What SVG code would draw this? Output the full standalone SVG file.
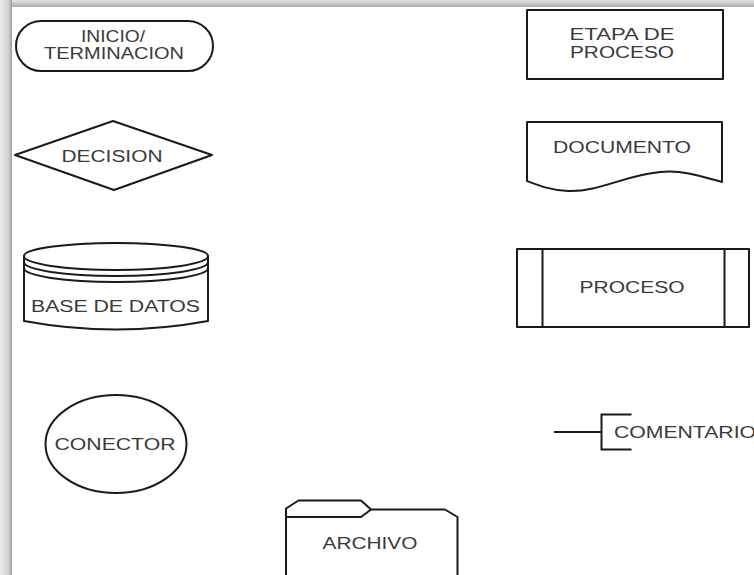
<svg xmlns="http://www.w3.org/2000/svg" width="754" height="575" viewBox="0 0 754 575">
  <defs>
    <linearGradient id="shadeTop" x1="0" y1="0" x2="0" y2="1">
      <stop offset="0" stop-color="#e6e6e6"/>
      <stop offset="1" stop-color="#a9a9a9"/>
    </linearGradient>
    <linearGradient id="shadeLeft" x1="0" y1="0" x2="1" y2="0">
      <stop offset="0" stop-color="#ececec"/>
      <stop offset="0.7" stop-color="#d2d2d2"/>
      <stop offset="1" stop-color="#9c9c9c"/>
    </linearGradient>
  </defs>
  <style>
    .shape { fill: #ffffff; stroke: #1a1a1a; stroke-width: 2; stroke-linejoin: round; }
    .line { fill: none; stroke: #1a1a1a; stroke-width: 2; }
    .label { font-family: "Liberation Sans", Arial, sans-serif; font-size: 16px; fill: #3a3a3a; }
  </style>

  <!-- page background and drop shadow edges -->
  <rect x="0" y="0" width="754" height="575" fill="#ffffff"/>
  <rect x="0" y="0" width="754" height="7" fill="url(#shadeTop)"/>
  <rect x="0" y="0" width="12" height="575" fill="url(#shadeLeft)"/>

  <g id="inicio-terminacion">
    <rect class="shape" x="16" y="21" width="197" height="50" rx="25" ry="25"/>
    <text class="label" x="113" y="41.5" text-anchor="middle" textLength="64" lengthAdjust="spacingAndGlyphs">INICIO/</text>
    <text class="label" x="114" y="59.3" text-anchor="middle" textLength="140" lengthAdjust="spacingAndGlyphs">TERMINACION</text>
  </g>

  <g id="etapa-de-proceso">
    <rect class="shape" x="527" y="10" width="196" height="69"/>
    <text class="label" x="622" y="40" text-anchor="middle" textLength="105" lengthAdjust="spacingAndGlyphs">ETAPA DE</text>
    <text class="label" x="622" y="58.3" text-anchor="middle" textLength="104" lengthAdjust="spacingAndGlyphs">PROCESO</text>
  </g>

  <g id="decision">
    <polygon class="shape" points="15,155 113,121 212,155 114,190"/>
    <text class="label" x="112" y="161.7" text-anchor="middle" textLength="101" lengthAdjust="spacingAndGlyphs">DECISION</text>
  </g>

  <g id="documento">
    <path class="shape" d="M527,122 H722 V182 C700,176 685,170 660,172 C625,175 600,192 568,191 C550,190 540,186 527,181 Z"/>
    <text class="label" x="622" y="153.3" text-anchor="middle" textLength="138" lengthAdjust="spacingAndGlyphs">DOCUMENTO</text>
  </g>

  <g id="base-de-datos">
    <path class="shape" d="M24,256 A92,13 0 0 1 208,256 V321 Q116,338 24,321 Z"/>
    <path class="line" d="M24,256 A92,14 0 0 0 208,256"/>
    <path class="line" d="M24,262 A92,14 0 0 0 208,262"/>
    <path class="line" d="M24,268 A92,14 0 0 0 208,268"/>
    <text class="label" x="115.5" y="311.7" text-anchor="middle" textLength="169" lengthAdjust="spacingAndGlyphs">BASE DE DATOS</text>
  </g>

  <g id="proceso">
    <rect class="shape" x="517" y="249" width="232" height="78"/>
    <line class="line" x1="542.5" y1="249" x2="542.5" y2="327"/>
    <line class="line" x1="724.5" y1="249" x2="724.5" y2="327"/>
    <text class="label" x="632" y="293.3" text-anchor="middle" textLength="105" lengthAdjust="spacingAndGlyphs">PROCESO</text>
  </g>

  <g id="conector">
    <ellipse class="shape" cx="116" cy="444" rx="70.5" ry="49"/>
    <text class="label" x="115" y="450" text-anchor="middle" textLength="121" lengthAdjust="spacingAndGlyphs">CONECTOR</text>
  </g>

  <g id="comentario">
    <path class="line" d="M631.5,414.5 H601.5 V449.5 H631.5"/>
    <text class="label" x="614" y="438.3" textLength="142" lengthAdjust="spacingAndGlyphs">COMENTARIO</text>
  </g>

  <g id="archivo">
    <path class="shape" d="M286,578 V508.5 L298.5,500.5 H361 L371,509.5 H445 L457.5,517 V578"/>
    <path class="line" d="M286,517 H361 L371,509.5"/>
    <text class="label" x="370" y="549.3" text-anchor="middle" textLength="95" lengthAdjust="spacingAndGlyphs">ARCHIVO</text>
  </g>

  <!-- connector lines -->
  <g id="connectors">
    <line class="line" x1="554" y1="432" x2="601.5" y2="432"/>
  </g>
</svg>
